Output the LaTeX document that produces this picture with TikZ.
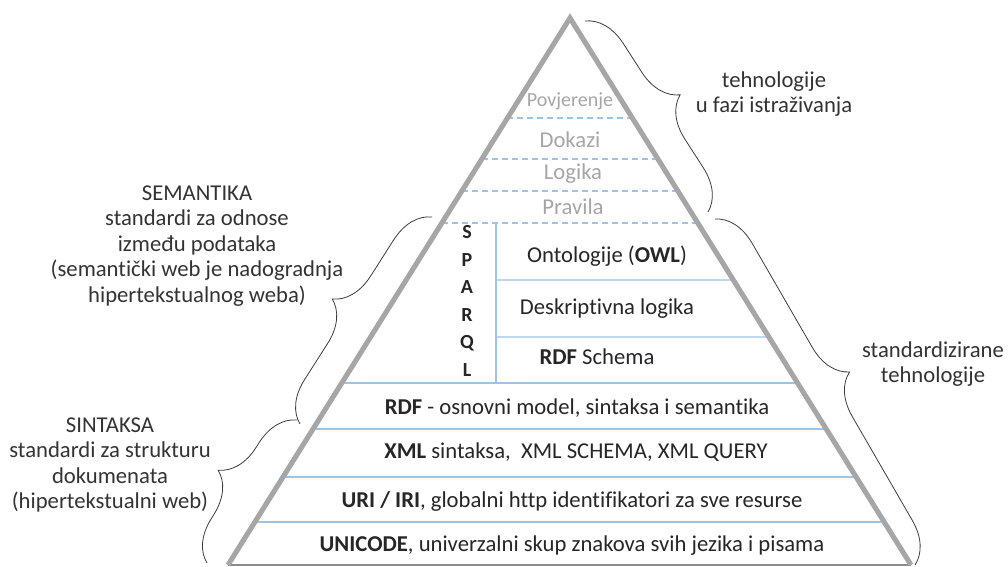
\documentclass[tikz,border=0pt]{standalone}
\usepackage{fontspec}
\setmainfont{Carlito}[Ligatures=NoCommon]
\usetikzlibrary{calc,decorations.pathreplacing}
\definecolor{sidegray}{RGB}{166,166,166}
\definecolor{basegray}{RGB}{140,140,140}
\definecolor{rowblue}{RGB}{157,195,230}
\definecolor{bracegray}{RGB}{60,60,60}

\begin{document}
\begin{tikzpicture}[x=0.75pt,y=0.75pt,
    side/.style={sidegray,line width=3.8pt},
    rowline/.style={rowblue,line width=0.9pt},
    dashline/.style={rowline,dash pattern=on 4.5pt off 3pt},
    rowtxt/.style={anchor=base,inner sep=0pt,text=black!85,font=\fontsize{17}{20}\selectfont},
    futuretxt/.style={rowtxt,text=sidegray},
    sidetxt/.style={align=center,inner sep=0pt,text=black!80,font=\fontsize{17}{19.2}\selectfont},
    bracket/.style={bracegray,line width=0.6pt,decorate,decoration={brace,amplitude=30pt}}]
  \useasboundingbox (0,0) rectangle (1008,567);
  \coordinate (top) at (570,549);
  \coordinate (bl) at (228,2);
  \coordinate (br) at (911,2);
  \foreach \p in {118,159,191,223}
    \draw[dashline] ($(top)!{(\p-18)/547}!(bl)$) -- ($(top)!{(\p-18)/547}!(br)$);
  \foreach \p in {383,429,477,522}
    \draw[rowline] ($(top)!{(\p-18)/547}!(bl)$) -- ($(top)!{(\p-18)/547}!(br)$);
  \coordinate (sqtop) at (496,344);
  \coordinate (sqbot) at (496,184);
  \draw[rowline] (sqtop) -- (sqbot);
  \foreach \p in {280,337}
    \draw[rowline] (496,{567-\p}) -- ($(top)!{(\p-18)/547}!(br)$);
  \draw[basegray,line width=1.1pt] (bl) -- (br);
  \draw[side] (bl) -- (top) -- (br);

  \node[futuretxt,font=\fontsize{15}{18}\selectfont] (povj) at (570,460) {Povjerenje};
  \node[futuretxt] (dokazi) at (570,419) {Dokazi};
  \node[futuretxt] (logika) at (573,387) {Logika};
  \node[futuretxt] (pravila) at (573,352) {Pravila};
  \foreach \l [count=\i] in {S,P,A,R,Q,L}
    \node[rowtxt,font=\fontsize{15}{17}\selectfont\bfseries] (sp\i) at (467,{356-27.6*\i}) {\l};
  \node[rowtxt] (onto) at (607,304) {Ontologije (\textbf{OWL})};
  \node[rowtxt] (desk) at (607,252) {Deskriptivna logika};
  \node[rowtxt] (rdfs) at (597,202) {\textbf{RDF} Schema};
  \node[rowtxt] (rdf) at (577,152) {\textbf{RDF} - osnovni model, sintaksa i semantika};
  \node[rowtxt] (xml) at (576,108) {\textbf{XML} sintaksa,\ \ XML SCHEMA, XML QUERY};
  \node[rowtxt] (uri) at (572,59) {\textbf{URI / IRI}, globalni http identifikatori za sve resurse};
  \node[rowtxt] (unicode) at (572,15) {\textbf{UNICODE}, univerzalni skup znakova svih jezika i pisama};

  \node[sidetxt] (sem) at (197,321) {SEMANTIKA\\standardi za odnose\\između podataka\\(semantički web je nadogradnja\\hipertekstualnog weba)};
  \node[sidetxt] (sin) at (110,102) {SINTAKSA\\standardi za strukturu\\dokumenata\\(hipertekstualni web)};
  \node[sidetxt] (istr) at (774,473) {tehnologije\\u fazi istraživanja};
  \node[sidetxt] (std) at (933,203) {standardizirane\\tehnologije};

  \coordinate (ur1) at (585,546);
  \coordinate (ur2) at (708,355);
  \coordinate (lr1) at (715,348);
  \coordinate (lr2) at (915,2);
  \coordinate (ul1) at (300,143);
  \coordinate (ul2) at (432,350);
  \coordinate (ll1) at (207,4);
  \coordinate (ll2) at (297,147);
  \draw[bracket] (ur1) -- (ur2);
  \draw[bracket] (lr1) -- (lr2);
  \draw[bracket] (ul1) -- (ul2);
  \draw[bracket] (ll1) -- (ll2);
\end{tikzpicture}
\end{document}
